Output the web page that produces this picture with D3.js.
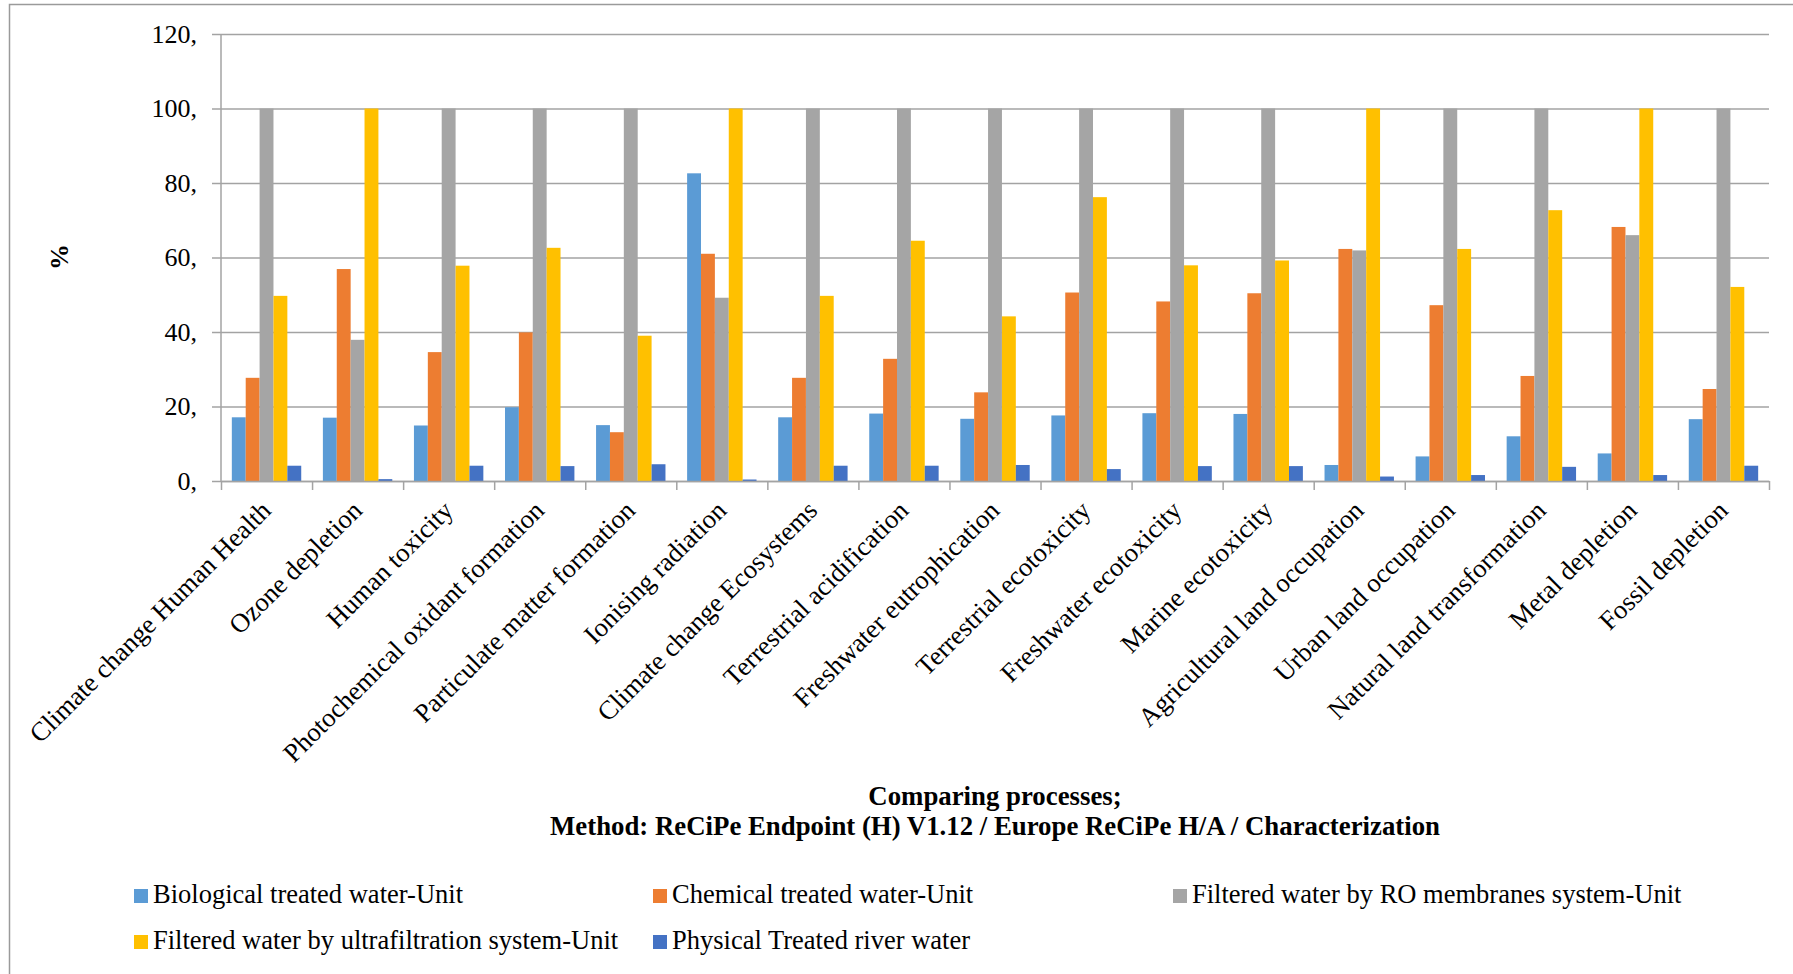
<!DOCTYPE html>
<html>
<head>
<meta charset="utf-8">
<script src="https://cdn.jsdelivr.net/npm/d3@7"></script>
<style>
    body { margin: 0; background: #fff; }
    svg text { font-family: "Liberation Serif", "Times New Roman", serif; fill: #000; }
</style>
</head>
<body>
<div id="chart"></div>
<script>
// impact categories (x axis)
const categories = [
    'Climate change Human Health', 'Ozone depletion', 'Human toxicity',
    'Photochemical oxidant formation', 'Particulate matter formation', 'Ionising radiation',
    'Climate change Ecosystems', 'Terrestrial acidification', 'Freshwater eutrophication',
    'Terrestrial ecotoxicity', 'Freshwater ecotoxicity', 'Marine ecotoxicity',
    'Agricultural land occupation', 'Urban land occupation', 'Natural land transformation',
    'Metal depletion', 'Fossil depletion'
];

const seriesNames = [
    'Biological treated water-Unit',
    'Chemical treated water-Unit',
    'Filtered water by RO membranes system-Unit',
    'Filtered water by ultrafiltration system-Unit',
    'Physical Treated river water'
];
const seriesColors = ['#5b9bd5', '#ed7d31', '#a5a5a5', '#ffc000', '#4472c4'];

// values in %, one entry per category
const biological = [17.1, 17.0, 14.9, 19.8, 15.0, 82.6, 17.1, 18.1, 16.7, 17.6, 18.2, 18.0, 4.3, 6.6, 12.0, 7.4, 16.6];
const chemical = [27.7, 56.9, 34.6, 39.9, 13.1, 61.0, 27.7, 32.8, 23.8, 50.6, 48.2, 50.4, 62.3, 47.2, 28.2, 68.2, 24.7];
const roMembranes = [100, 37.9, 100, 100, 100, 49.2, 100, 100, 100, 100, 100, 100, 61.9, 100, 100, 66.0, 100];
const ultrafiltration = [49.7, 100, 57.8, 62.6, 39.0, 100, 49.7, 64.5, 44.2, 76.2, 57.9, 59.2, 100, 62.3, 72.7, 100, 52.1];
const physical = [4.1, 0.5, 4.1, 4.0, 4.5, 0.4, 4.1, 4.1, 4.3, 3.2, 4.0, 4.0, 1.2, 1.6, 3.8, 1.6, 4.1];

const yTicks = [0, 20, 40, 60, 80, 100, 120];

const titleLines = [
    'Comparing processes;',
    'Method: ReCiPe Endpoint (H) V1.12 / Europe ReCiPe H/A / Characterization'
];

const width = 1793, height = 974;
const plot = { left: 221, right: 1769, top: 34, bottom: 481 };
const gridColor = '#a3a3a3';

const svg = d3.select('#chart').append('svg')
    .attr('width', width).attr('height', height);

// frame of the original figure (left and top edges only)
svg.append('path')
    .attr('d', `M9.5,${height} V4.5 H${width}`)
    .attr('fill', 'none').attr('stroke', '#9a9a9a').attr('stroke-width', 1.5);

//--- scales ---------------------------------------------------------------
const x0 = d3.scaleBand(categories, [plot.left, plot.right]);
const x1 = d3.scaleBand(seriesNames, [0, x0.bandwidth()]).paddingInner(0).paddingOuter(0.78);
const y = d3.scaleLinear([0, 120], [plot.bottom, plot.top]);
const xEdges = d3.scaleLinear([0, categories.length], [plot.left, plot.right]);

//--- gridlines + y labels -------------------------------------------------
const yAxis = svg.append('g')
    .attr('transform', `translate(${plot.left - 9},0)`)
    .call(d3.axisLeft(y).tickValues(yTicks)
        .tickSizeInner(-(plot.right - plot.left + 9)).tickSizeOuter(0)
        .tickPadding(15).tickFormat(d => d + ','));
yAxis.select('.domain').remove();
yAxis.selectAll('line').attr('stroke', gridColor).attr('stroke-width', 1.5);
yAxis.selectAll('text').style('font-size', '26px');

// vertical axis line
svg.append('line')
    .attr('x1', plot.left).attr('x2', plot.left)
    .attr('y1', plot.top).attr('y2', plot.bottom)
    .attr('stroke', gridColor).attr('stroke-width', 1.5);

//--- bars -----------------------------------------------------------------
const table = categories.map((c, i) => ({
    category: c,
    values: [biological[i], chemical[i], roMembranes[i], ultrafiltration[i], physical[i]]
}));

svg.append('g').selectAll('g')
    .data(table)
    .join('g')
    .attr('transform', d => `translate(${x0(d.category)},0)`)
    .selectAll('rect')
    .data(d => d.values.map((v, k) => ({ key: seriesNames[k], value: v, color: seriesColors[k] })))
    .join('rect')
    .attr('x', d => x1(d.key))
    .attr('width', x1.bandwidth())
    .attr('y', d => y(d.value))
    .attr('height', d => y(0) - y(d.value))
    .attr('fill', d => d.color);

//--- x axis (ticks between categories) ------------------------------------
const xAxis = svg.append('g')
    .attr('transform', `translate(0,${plot.bottom})`)
    .call(d3.axisBottom(xEdges).tickValues(d3.range(categories.length + 1))
        .tickSizeInner(9).tickSizeOuter(0).tickFormat(''));
xAxis.selectAll('line, path').attr('stroke', gridColor).attr('stroke-width', 1.5);

svg.append('g').selectAll('text')
    .data(categories)
    .join('text')
    .attr('transform', d => `translate(${x0(d) + x0.bandwidth() / 2 + 6},${plot.bottom + 31}) rotate(-45)`)
    .attr('text-anchor', 'end')
    .style('font-size', '26.6px')
    .text(d => d);

//--- axis title -----------------------------------------------------------
svg.append('text')
    .attr('transform', 'translate(68,257) rotate(-90)')
    .attr('text-anchor', 'middle')
    .style('font-size', '26px').style('font-weight', 'bold')
    .text('%');

//--- title ----------------------------------------------------------------
svg.append('g').selectAll('text')
    .data(titleLines)
    .join('text')
    .attr('x', 995)
    .attr('y', (d, i) => 805 + i * 30)
    .attr('text-anchor', 'middle')
    .style('font-size', '26.8px').style('font-weight', 'bold')
    .text(d => d);

//--- legend ---------------------------------------------------------------
const legendCols = [134, 653, 1173];
const legend = svg.append('g').selectAll('g')
    .data(seriesNames)
    .join('g')
    .attr('transform', (d, i) => `translate(${legendCols[i % 3]},${889 + Math.floor(i / 3) * 46})`);

legend.append('rect')
    .attr('width', 14).attr('height', 14)
    .attr('fill', (d, i) => seriesColors[i]);

legend.append('text')
    .attr('x', 19).attr('y', 14)
    .style('font-size', '26.5px')
    .text(d => d);
</script>
</body>
</html>
